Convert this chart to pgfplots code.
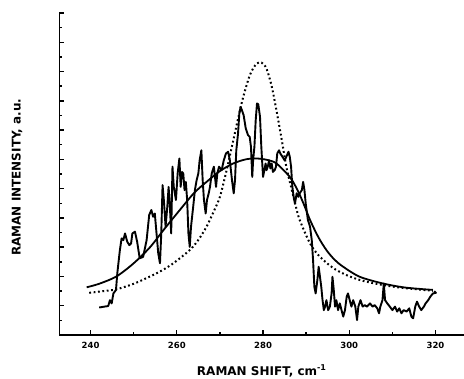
\documentclass[border=0pt]{standalone}
\usepackage{fontspec}
\setmainfont{DejaVu Sans}
\usepackage{pgfplots}
\pgfplotsset{compat=1.18}
\begin{document}
\begin{tikzpicture}
\useasboundingbox (0,0) rectangle (464pt,379pt);
\begin{axis}[
  at={(59.5pt,44pt)}, anchor=south west,
  width=404.5pt, height=322pt, scale only axis,
  xmin=232.8, xmax=326.6, ymin=0, ymax=11,
  axis x line*=bottom, axis y line*=left,
  axis line style={-, line width=1.6pt},
  xtick={240,260,...,320}, minor xtick={250,270,290,310},
  ytick={1,...,11}, minor ytick={0.5,1.5,...,10.5},
  yticklabels={},
  tick align=inside, major tick length=5pt, minor tick length=3pt,
  tick style={line width=1.4pt, black},
  /pgf/number format/assume math mode=true,
  xticklabel style={font=\fontsize{8.5}{10}\selectfont\bfseries, yshift=-4pt},
  xlabel={RAMAN SHIFT, cm\textsuperscript{-1}},
  ylabel={RAMAN INTENSITY, a.u.},
  label style={font=\fontsize{12}{14}\selectfont\bfseries},
  xlabel style={at={(axis description cs:0.5,-0.112)}, anchor=center},
  ylabel style={at={(axis description cs:-0.105,0.49)}, anchor=center},
]
% fitted broad profile (solid)
\addplot[black, line width=1.8pt, smooth, tension=0.5] coordinates {
(239.1,1.63)(242,1.75)(246,2.0)(250,2.45)(253.8,3.0)(257,3.6)(260.7,4.27)(264,4.85)(266.9,5.23)(270,5.6)(273.1,5.86)(276,6.0)(278.5,6.03)(281,5.98)(283.1,5.86)(286.2,5.4)(288,4.95)(289.5,4.45)(290.9,3.93)(292.8,3.35)(294.7,2.90)(296.6,2.57)(298.6,2.33)(302.4,1.99)(307.8,1.76)(313,1.62)(319.4,1.54)
};
% fitted narrow profile (dotted)
\addplot[black, line width=2pt, dash pattern=on 1.8pt off 2.6pt, smooth, tension=0.5] coordinates {
(239.7,1.44)(243,1.5)(246,1.56)(250,1.75)(253.8,2.0)(256.5,2.2)(259.2,2.45)(263,2.9)(265,3.25)(266.9,3.7)(268.5,4.2)(270,4.72)(271.5,5.6)(273.1,6.65)(274.3,7.45)(275.4,8.13)(277,8.9)(278.5,9.27)(279.7,9.3)(280.8,9.1)(282,8.5)(283.1,7.68)(284.3,6.7)(285.4,5.75)(286.6,5.0)(287.6,4.4)(288.5,3.93)(290.9,3.13)(293.2,2.67)(297.0,2.22)(302.4,1.88)(310.2,1.65)(319.4,1.51)
};
% measured spectrum
\addplot[black, line width=1.9pt, line join=round] coordinates {
(242.0,0.94)(244.1,0.99)(244.5,1.19)(244.9,1.08)(245.3,1.42)(245.9,1.54)(246.2,2.10)(246.8,2.90)(247.2,3.30)(247.6,3.24)(248.0,3.47)(248.5,3.19)(249.0,3.07)(249.4,3.13)(249.7,3.47)(250.3,3.53)(250.8,3.19)(251.4,2.62)(252.2,2.67)(253.0,3.24)(253.6,4.10)(254.1,4.27)(254.5,4.04)(254.9,4.15)(255.3,3.47)(255.7,2.79)(256.1,2.45)(256.4,3.47)(256.7,5.12)(257.0,4.61)(257.4,3.70)(257.8,4.38)(258.1,5.06)(258.4,4.38)(258.7,3.47)(259.0,5.75)(259.3,5.06)(259.8,4.61)(260.2,5.52)(260.6,6.03)(260.9,5.06)(261.2,5.57)(261.5,5.52)(261.8,4.95)(262.1,5.23)(262.4,4.61)(262.7,3.47)(263.0,3.01)(263.3,3.70)(263.8,4.38)(264.2,4.95)(264.6,5.29)(265.0,5.52)(265.3,5.97)(265.7,6.31)(266.0,5.29)(266.3,4.61)(266.7,4.15)(267.0,4.61)(267.4,4.84)(267.7,5.06)(268.1,5.52)(268.6,5.75)(269.1,5.06)(269.4,5.52)(269.8,5.75)(270.4,5.63)(270.9,5.97)(271.4,6.20)(271.9,6.26)(272.3,5.97)(272.8,5.29)(273.2,4.84)(273.5,5.29)(273.8,6.31)(274.2,6.88)(274.5,7.57)(274.8,7.79)(275.1,7.68)(275.5,7.51)(276.0,7.05)(276.5,6.83)(276.9,6.77)(277.2,6.43)(277.5,5.40)(277.7,5.97)(278.0,6.43)(278.3,7.34)(278.6,7.91)(278.9,7.88)(279.3,7.45)(279.6,6.43)(280.0,5.40)(280.3,5.63)(280.6,5.86)(280.8,5.63)(281.1,5.75)(281.4,5.97)(281.7,5.69)(282.0,5.86)(282.3,5.57)(282.7,5.63)(283.0,5.75)(283.3,6.20)(283.7,6.31)(284.0,6.20)(284.5,6.09)(285.0,5.97)(285.4,6.09)(285.9,6.26)(286.2,6.09)(286.5,5.75)(286.8,5.06)(287.1,4.72)(287.4,4.49)(287.8,4.84)(288.2,4.72)(288.5,4.84)(289.0,4.95)(289.3,5.23)(289.6,4.95)(289.9,4.49)(290.4,3.93)(290.9,3.70)(291.3,3.24)(291.6,2.56)(291.9,1.65)(292.2,1.42)(292.6,1.88)(292.9,2.33)(293.2,1.99)(293.5,1.65)(293.8,1.19)(294.1,0.85)(294.4,0.97)(294.7,1.19)(295.1,0.85)(295.5,0.97)(295.9,1.42)(296.1,1.99)(296.4,1.54)(296.7,0.97)(297.0,1.19)(297.4,0.85)(297.8,1.08)(298.2,0.85)(298.6,0.63)(299.0,0.85)(299.4,1.31)(299.7,1.42)(300.1,1.19)(300.5,0.97)(300.9,1.19)(301.4,0.97)(301.8,0.51)(302.1,0.97)(302.6,1.19)(303.1,0.97)(303.6,1.02)(304.1,0.97)(304.8,1.08)(305.4,0.97)(305.9,1.02)(306.5,0.91)(306.9,0.74)(307.2,0.97)(307.7,1.19)(308.0,1.76)(308.3,1.19)(308.8,1.08)(309.4,0.97)(310.0,0.85)(310.6,0.97)(311.1,0.80)(311.6,0.91)(312.1,0.74)(312.6,0.85)(313.3,0.80)(313.9,0.91)(314.4,0.63)(314.8,0.57)(315.3,0.97)(315.7,1.14)(316.2,0.97)(316.7,0.85)(317.3,0.97)(317.7,1.08)(318.3,1.19)(318.8,1.31)(319.4,1.42)(320.1,1.44)(319.7,1.50)
};
\end{axis}
\end{tikzpicture}
\end{document}
